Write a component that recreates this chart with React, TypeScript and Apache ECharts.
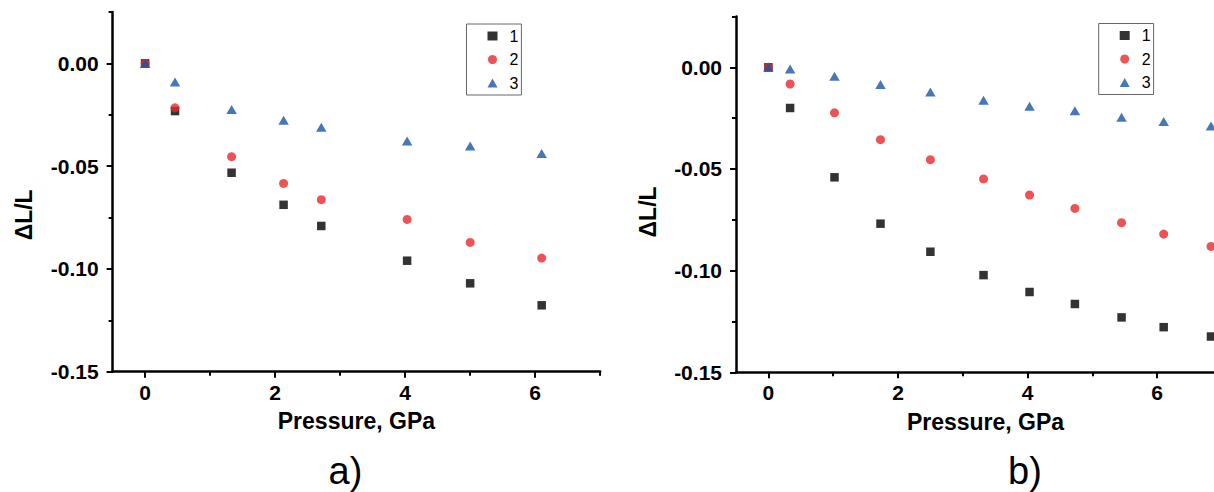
import React, { useEffect, useRef } from "react";
import * as echarts from "echarts";

// Panel a) data
const pressureA = [0, 0.46, 1.33, 2.13, 2.71, 4.03, 5.0, 6.1];
const a1 = [0, -0.0232, -0.0532, -0.0688, -0.0791, -0.096, -0.107, -0.1177];
const a2 = [0, -0.0216, -0.0454, -0.0584, -0.0663, -0.0759, -0.0871, -0.0947];
const a3 = [0, -0.0091, -0.0224, -0.0277, -0.0311, -0.0378, -0.0402, -0.0438];

// Panel b) data
const pressureB = [0, 0.335, 1.02, 1.73, 2.5, 3.32, 4.03, 4.73, 5.45, 6.1, 6.83];
const b1 = [0, -0.02, -0.0541, -0.0769, -0.0907, -0.1022, -0.1105, -0.1164, -0.123, -0.1278, -0.1324];
const b2 = [0, -0.0082, -0.0224, -0.0356, -0.0454, -0.0549, -0.0628, -0.0694, -0.0764, -0.082, -0.0881];
const b3 = [0, -0.0008, -0.0044, -0.0085, -0.0121, -0.0162, -0.0192, -0.0213, -0.0246, -0.0267, -0.0288];

const seriesNames = ["1", "2", "3"];
const xMajorTicks = [0, 2, 4, 6];
const xMinorTicks = [1, 3, 5, 7];
const yMajorTicks = [0, -0.05, -0.1, -0.15];
const yMinorTicks = [0.025, -0.025, -0.075, -0.125];
const xTitle = "Pressure, GPa";
const yTitle = "ΔL/L";
const panelLabels = ["a)", "b)"];

const FONT = "Arial, 'Liberation Sans', sans-serif";
const COLORS = ["#000000", "#e8282c", "#1a55a8"];
const SYMBOLS = ["rect", "circle", "triangle"];
const SIZES: any[] = [8.5, 9, [10.5, 9]];

export default function App() {
  const ref = useRef<HTMLDivElement>(null);
  useEffect(() => {
    if (!ref.current) return;
    const chart = echarts.init(ref.current, null, { renderer: "svg" });

    const zip = (xs: number[], ys: number[]) => xs.map((x, i) => [x, ys[i]]);

    const mainX = (gridIndex: number, max: number, namePad: number) => ({
      type: "value",
      gridIndex,
      position: "bottom",
      min: -0.5,
      max,
      name: xTitle,
      nameLocation: "middle",
      nameGap: 38,
      nameTextStyle: {
        fontSize: 23,
        fontWeight: "bold",
        fontFamily: FONT,
        color: "#000",
        padding: [0, 0, 0, namePad],
      },
      axisLine: { show: true, onZero: false, lineStyle: { color: "#000", width: 2.5 } },
      axisTick: { show: true, customValues: xMajorTicks, length: 6, lineStyle: { color: "#000", width: 2 } },
      axisLabel: {
        customValues: xMajorTicks,
        margin: 10,
        fontSize: 21,
        fontWeight: "bold",
        fontFamily: FONT,
        color: "#000",
        formatter: (v: number) => String(v),
      },
      splitLine: { show: false },
    });
    const minorX = (gridIndex: number, max: number) => ({
      type: "value",
      gridIndex,
      position: "bottom",
      min: -0.5,
      max,
      axisLine: { show: false, onZero: false },
      axisTick: {
        show: true,
        customValues: xMinorTicks.filter((v) => v <= max),
        length: 4,
        lineStyle: { color: "#000", width: 2 },
      },
      axisLabel: { show: false },
      splitLine: { show: false },
    });
    const mainY = (gridIndex: number, pad: number) => ({
      type: "value",
      gridIndex,
      position: "left",
      min: -0.15,
      max: 0.025,
      name: yTitle,
      nameLocation: "middle",
      nameRotate: 90,
      nameGap: 77,
      nameTextStyle: {
        fontSize: 23,
        fontWeight: "bold",
        fontFamily: FONT,
        color: "#000",
        padding: [0, pad, 0, 0],
      },
      axisLine: { show: true, onZero: false, lineStyle: { color: "#000", width: 2.5 } },
      axisTick: { show: true, customValues: yMajorTicks, length: 6, lineStyle: { color: "#000", width: 2 } },
      axisLabel: {
        customValues: yMajorTicks,
        margin: 14,
        fontSize: 21,
        fontWeight: "bold",
        fontFamily: FONT,
        color: "#000",
        formatter: (v: number) => (Math.abs(v) < 1e-9 ? "0.00" : v.toFixed(2)),
      },
      splitLine: { show: false },
    });
    const minorY = (gridIndex: number) => ({
      type: "value",
      gridIndex,
      position: "left",
      min: -0.15,
      max: 0.025,
      axisLine: { show: false, onZero: false },
      axisTick: { show: true, customValues: yMinorTicks, length: 4, lineStyle: { color: "#000", width: 2 } },
      axisLabel: { show: false },
      splitLine: { show: false },
    });

    const legend = (left: number, top: number) => ({
      orient: "vertical",
      left,
      top,
      data: seriesNames,
      itemWidth: 10,
      itemHeight: 9,
      itemGap: 7.5,
      padding: [4, 3, 4, 21],
      borderColor: "#666",
      borderWidth: 1,
      textStyle: {
        fontSize: 16,
        fontFamily: FONT,
        color: "#000",
        lineHeight: 12,
        padding: [0, 0, 0, 7],
      },
      selectedMode: false,
    });

    const panelSeries = (xs: number[], ys: number[][], axisIdx: number) =>
      ys.map((y, i) => ({
        type: "scatter",
        name: seriesNames[i],
        xAxisIndex: axisIdx,
        yAxisIndex: axisIdx,
        symbol: SYMBOLS[i],
        symbolSize: SIZES[i],
        itemStyle: { color: COLORS[i] },
        data: zip(xs, y),
      }));

    // right panel is cut by the picture edge: its visible axis ends at the canvas edge
    const rightLeft = 736;
    const rightWidth = 1214 - rightLeft;
    const rightMax = -0.5 + rightWidth / 64.8;

    chart.setOption({
      animation: false,
      backgroundColor: "#ffffff",
      grid: [
        { left: 112.6, top: 12, width: 487.6, height: 359.7 },
        { left: rightLeft, top: 16.5, width: rightWidth, height: 355.8 },
      ],
      xAxis: [mainX(0, 7, 0), minorX(0, 7), mainX(1, rightMax, 21), minorX(1, rightMax)],
      yAxis: [mainY(0, 46), minorY(0), mainY(1, 35), minorY(1)],
      legend: [legend(466.5, 24), legend(1098.7, 23.5)],
      series: [
        ...panelSeries(pressureA, [a1, a2, a3], 0),
        ...panelSeries(pressureB, [b1, b2, b3], 2),
      ],
      graphic: [
        {
          type: "text",
          x: 345.5,
          y: 470.5,
          style: { text: panelLabels[0], fontSize: 38, fontFamily: FONT, fill: "#000", align: "center", verticalAlign: "middle" },
        },
        {
          type: "text",
          x: 1025,
          y: 470.5,
          style: { text: panelLabels[1], fontSize: 38, fontFamily: FONT, fill: "#000", align: "center", verticalAlign: "middle" },
        },
      ],
    });
    return () => chart.dispose();
  }, []);
  return (
    <div
      ref={ref}
      style={{ position: "fixed", left: 0, top: 0, width: 1214, height: 492, background: "#fff", overflow: "hidden" }}
    />
  );
}
